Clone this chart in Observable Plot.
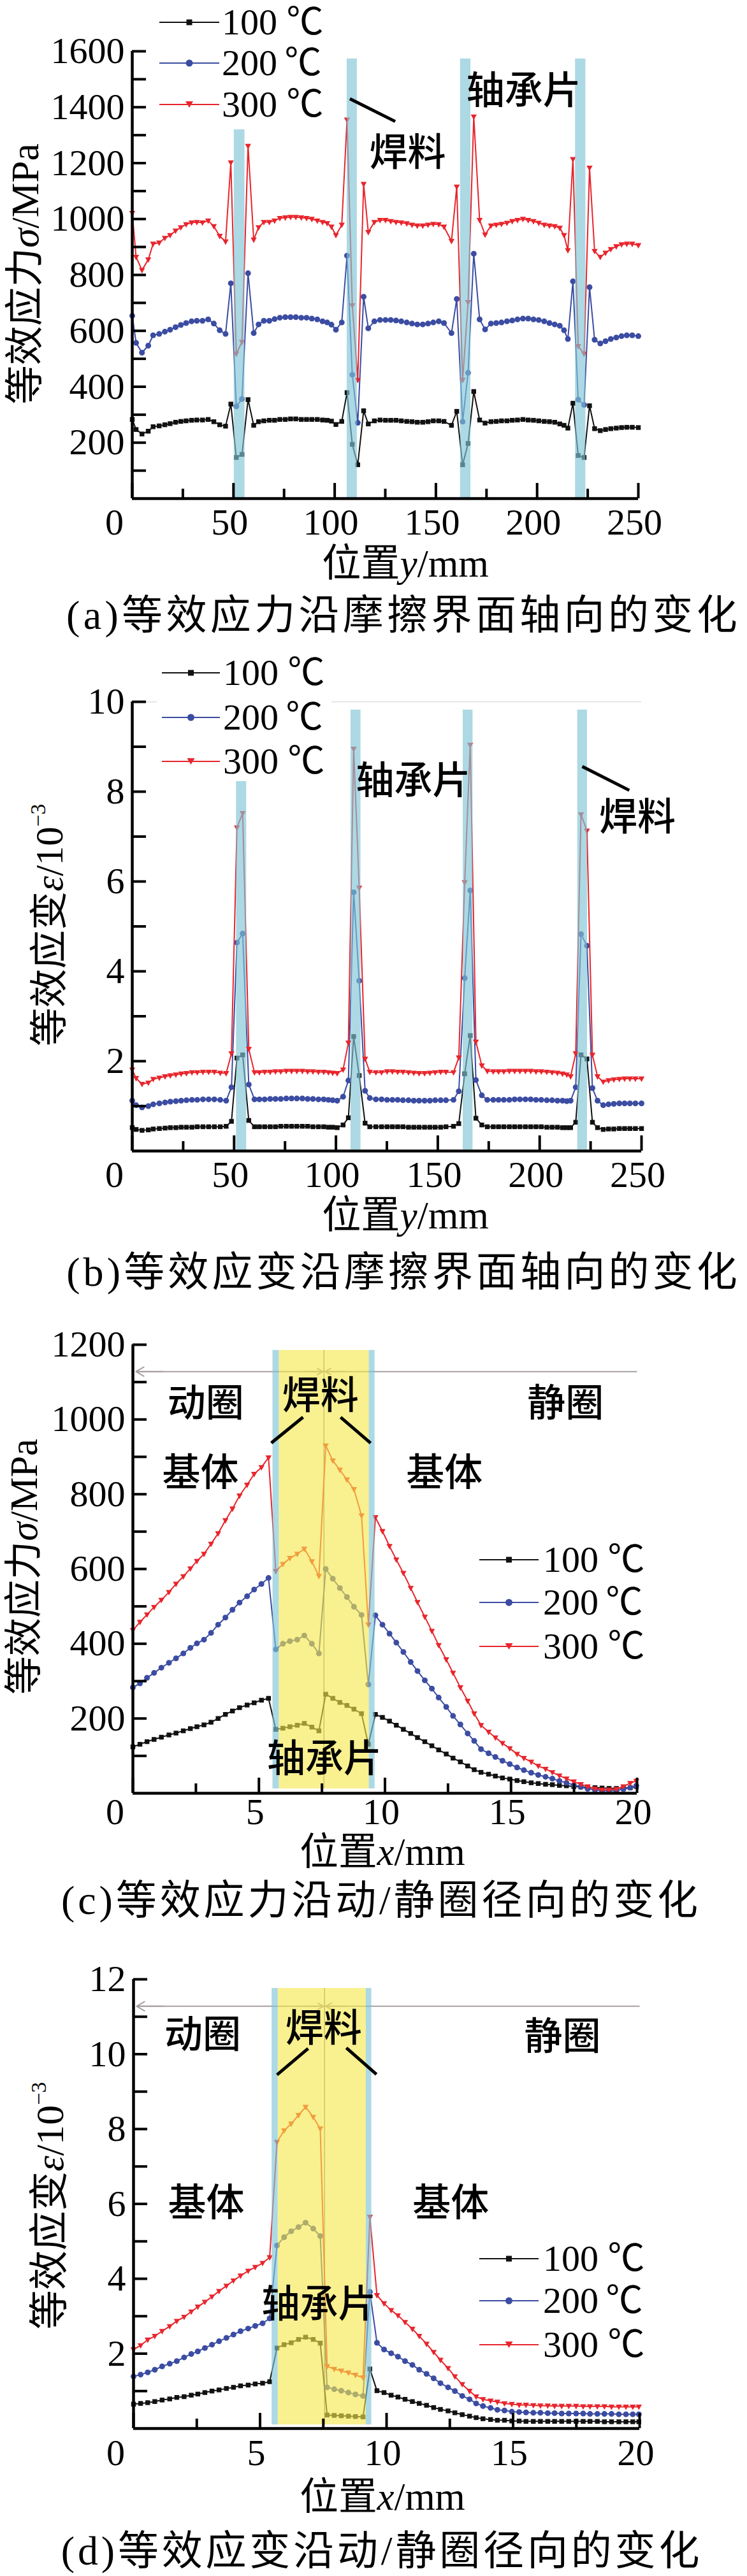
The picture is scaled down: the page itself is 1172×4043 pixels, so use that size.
<!DOCTYPE html>
<html><head><meta charset="utf-8">
<script src="https://cdn.jsdelivr.net/npm/d3@7"></script>
<script src="https://cdn.jsdelivr.net/npm/@observablehq/plot@0.6"></script>
<style>
html,body{margin:0;padding:0;background:#fff;overflow:hidden;}
#root{position:relative;width:1172px;height:4043px;overflow:hidden;background:#fff;color:#000;
  font-family:"Liberation Serif","Noto Sans CJK SC",serif;}
.lbl{position:absolute;white-space:nowrap;width:max-content;transform:translate(-50%,-50%);line-height:1;}
.leg{position:absolute;}
.row{position:absolute;display:flex;align-items:center;height:60px;width:max-content;white-space:nowrap;font-size:58px;line-height:1;}
svg.plot{position:absolute;left:0;}
</style></head><body><div id="root"></div>
<script>
// ---------------- data ----------------
const tempLabels = ["100 ℃", "200\u2009℃", "300 ℃"];
const seriesColors = ["#111111", "#3b4ca2", "#e8252c"];

// positions along the friction interface (mm), panels (a) and (b)
const yPos = [0,1.9,4.8,7.9,10.3,13.3,16.1,18.7,21.4,24,26.6,29.3,31.9,34.7,37.5,40.3,43.2,46.1,48.7,51.4,
  54.2,57.2,60,62.4,65,67.7,70.3,72.9,75.6,78.2,80.8,83.5,86.1,88.7,91.4,94,96.3,98.4,100.6,103.5,
  106.1,108.7,111.4,114.3,116.6,119.6,122.4,
  125.1,127.7,130.3,132.9,135.6,138.2,140.8,143.5,146.1,148.7,151.4,154,157.7,160.3,163.2,165.9,168.7,171.6,174.3,
  177.2,179.8,182.4,185.1,187.7,190.3,193,195.6,198.2,200.8,203.5,206.1,208.7,211.2,213.3,215.2,
  217.7,220.3,223.2,225.9,228.4,231.2,233.8,236.4,239.1,241.7,244.3,247,250];

// (a) equivalent stress, MPa
const stressA100 = [283,247,231,241,257,260,264,268,273,276,278,280,281,281,283,275,264,259,338,147,
  158,354,262,275,278,280,280,283,283,285,285,283,283,283,283,281,280,277,265,276,379,194,121,314,267,278,281,
  280,280,280,278,276,275,273,273,275,278,278,276,262,312,121,197,383,281,270,
  275,276,278,278,280,281,283,281,280,278,276,275,273,267,262,252,341,154,147,332,250,243,247,250,252,254,255,255,254];
const stressA200 = [654,557,522,547,584,589,597,604,613,621,628,634,636,636,641,626,602,589,770,330,
  356,806,592,623,636,636,642,647,649,649,649,647,647,644,641,634,630,622,604,630,869,443,271,722,609,634,639,
  639,639,637,634,630,626,623,623,626,630,634,628,592,714,275,450,876,641,605,
  626,628,630,634,637,641,644,644,641,639,634,628,623,618,602,571,777,354,335,756,568,555,563,571,576,581,584,584,581];
const stressA300 = [1021,864,817,855,911,915,932,942,958,970,981,987,989,987,994,974,939,919,1202,518,
  560,1261,926,970,989,989,994,1003,1005,1007,1007,1005,1003,1000,994,989,985,972,942,979,1355,691,424,1125,953,989,996,
  996,992,989,987,984,979,976,976,979,982,981,972,921,1115,424,702,1366,996,944,
  976,979,982,986,992,996,1000,996,992,986,979,976,974,968,942,888,1214,545,518,1183,885,864,879,892,902,909,911,911,906];

// (b) equivalent strain, 10^-3
const strainB100 = [0.52,0.48,0.46,0.47,0.49,0.50,0.51,0.52,0.52,0.53,0.53,0.53,0.54,0.54,0.54,0.54,0.54,0.55,0.66,2.07,
  2.14,0.68,0.54,0.54,0.54,0.54,0.54,0.55,0.55,0.55,0.55,0.55,0.55,0.54,0.54,0.54,0.53,0.53,0.52,0.58,0.74,2.55,1.68,0.62,0.54,0.54,0.54,
  0.54,0.54,0.54,0.54,0.53,0.53,0.53,0.53,0.53,0.53,0.53,0.54,0.55,0.61,1.72,2.57,0.73,0.58,0.54,
  0.54,0.54,0.54,0.54,0.54,0.54,0.54,0.54,0.54,0.54,0.53,0.53,0.53,0.52,0.52,0.52,0.64,2.14,2.05,0.64,0.52,0.48,0.49,0.49,0.50,0.50,0.50,0.50,0.50];
const strainB200 = [1.12,1.02,0.97,1.00,1.04,1.06,1.08,1.10,1.11,1.12,1.13,1.14,1.14,1.15,1.15,1.15,1.14,1.12,1.42,4.64,
  4.84,1.48,1.15,1.15,1.15,1.16,1.16,1.16,1.17,1.17,1.17,1.17,1.16,1.16,1.15,1.15,1.14,1.13,1.12,1.21,1.57,5.76,3.79,1.34,1.18,1.15,1.15,
  1.14,1.14,1.14,1.13,1.13,1.12,1.12,1.12,1.12,1.13,1.13,1.13,1.14,1.33,3.85,5.80,1.58,1.24,1.14,
  1.14,1.14,1.14,1.14,1.15,1.15,1.15,1.15,1.14,1.14,1.13,1.13,1.12,1.12,1.11,1.12,1.42,4.83,4.57,1.40,1.12,1.02,1.04,1.05,1.06,1.06,1.06,1.06,1.06];
const strainB300 = [1.81,1.62,1.49,1.52,1.60,1.63,1.66,1.68,1.70,1.72,1.73,1.75,1.75,1.76,1.76,1.76,1.74,1.73,2.17,7.20,
  7.52,2.27,1.75,1.75,1.76,1.76,1.77,1.77,1.78,1.78,1.78,1.78,1.77,1.77,1.76,1.76,1.75,1.74,1.73,1.81,2.41,8.95,5.86,2.05,1.76,1.75,1.75,
  1.77,1.77,1.76,1.76,1.75,1.74,1.73,1.73,1.74,1.75,1.76,1.76,1.75,2.08,5.98,9.04,2.43,1.90,1.78,
  1.77,1.77,1.77,1.78,1.78,1.78,1.78,1.78,1.77,1.77,1.76,1.75,1.74,1.72,1.70,1.66,2.17,7.49,7.13,2.14,1.66,1.54,1.57,1.59,1.60,1.61,1.61,1.61,1.61];

// radial positions across moving/static ring (mm), panels (c) and (d)
const xPos = [0,0.28,0.56,0.84,1.13,1.43,1.71,2.0,2.28,2.54,2.82,3.1,3.38,3.67,3.95,4.23,4.53,4.81,5.1,5.38,
  5.67,5.95,6.23,6.52,6.8,7.1,7.38,
  7.65,7.93,8.21,8.49,8.77,9.07,
  9.34,
  9.62,9.9,10.18,10.45,10.73,11.02,11.29,11.58,11.86,12.13,12.43,12.7,12.99,13.28,13.54,13.81,14.11,14.38,14.66,14.95,
  15.24,15.51,15.8,16.08,16.37,16.64,16.92,17.2,17.49,17.77,18.04,18.33,18.61,18.89,19.18,19.46,19.73,19.97];

// (c) equivalent stress, MPa
const stressC100 = [124,131,138,144,150,156,161,167,173,178,183,190,200,211,220,229,236,242,249,254,
  171,174,178,182,187,177,167, 265,254,243,235,225,213, 131,
  211,203,193,182,171,160,149,138,127,116,105,94,84,73,63,56,51,46,41,38,34,31,28,26,24,23,21,20,18,17,15,15,14,13,13,14,15,18];
const stressC200 = [283,294,309,322,336,349,361,374,389,401,411,429,451,470,491,510,527,545,560,576,
  385,400,407,411,422,400,374, 600,574,549,525,499,477, 291,
  476,451,427,403,378,351,327,302,280,256,231,207,184,160,140,118,107,97,87,78,69,62,55,49,44,39,33,28,22,17,12,9,7,7,7,11,15,20];
const stressC300 = [436,458,478,498,517,538,560,580,601,621,640,667,695,730,761,796,825,854,872,898,
  594,613,629,640,654,620,581, 930,890,865,839,813,743, 451,
  738,701,661,625,589,549,511,472,434,396,358,322,283,247,213,182,164,149,134,120,105,94,84,73,65,56,47,39,31,24,18,12,9,9,11,18,27,33];

// (d) equivalent strain, 10^-3
const strainD100 = [0.65,0.67,0.69,0.72,0.76,0.79,0.83,0.85,0.89,0.92,0.96,1.00,1.03,1.07,1.10,1.14,1.16,1.19,1.21,1.25,
  2.15,2.24,2.29,2.38,2.44,2.38,2.28, 0.36,0.35,0.34,0.33,0.32,0.31, 1.59,
  1.01,0.96,0.89,0.84,0.78,0.72,0.67,0.62,0.56,0.51,0.47,0.42,0.37,0.33,0.29,0.26,0.24,0.22,0.22,0.20,
  0.20,0.19,0.19,0.19,0.19,0.19,0.19,0.19,0.19,0.19,0.19,0.19,0.18,0.18,0.18,0.18,0.18,0.18];
const strainD200 = [1.39,1.44,1.50,1.57,1.66,1.73,1.80,1.90,1.99,2.06,2.15,2.24,2.33,2.42,2.51,2.60,2.67,2.74,2.81,2.94,
  4.89,5.11,5.27,5.38,5.50,5.34,5.14, 1.10,1.05,1.01,0.96,0.91,0.87, 3.65,
  2.29,2.11,2.01,1.92,1.80,1.70,1.57,1.46,1.34,1.21,1.10,1.00,0.87,0.78,0.67,0.60,0.55,0.50,0.48,0.45,
  0.44,0.43,0.42,0.42,0.41,0.41,0.40,0.40,0.40,0.40,0.39,0.39,0.39,0.39,0.38,0.38,0.38,0.38];
const strainD300 = [2.11,2.22,2.37,2.47,2.60,2.73,2.87,2.98,3.12,3.25,3.38,3.52,3.67,3.81,3.95,4.08,4.21,4.31,4.42,4.57,
  7.65,7.96,8.14,8.37,8.59,8.32,8.01, 1.66,1.59,1.54,1.49,1.43,1.36, 5.65,
  3.56,3.34,3.16,3.02,2.84,2.66,2.47,2.26,2.04,1.83,1.61,1.39,1.18,1.00,0.85,0.78,0.74,0.71,0.67,0.65,
  0.63,0.63,0.62,0.61,0.61,0.60,0.60,0.60,0.60,0.59,0.59,0.59,0.59,0.58,0.58,0.58,0.58,0.58];

// shaded regions (bearing plate = blue, solder = yellow)
const bandsA = [[50.3,55.6],[106.1,111.1],[162.1,167.2],[218.9,224.0]];
const bandsB = [[51.1,56.1],[107.3,112.2],[162.4,167.2],[218.6,223.4]];
const bandsCblue = [[5.55,5.8],[9.37,9.6]];
const bandsCyellow = [[5.8,9.37]];
const bandsDblue = [[5.47,5.71],[9.19,9.41]];
const bandsDyellow = [[5.71,9.19]];

// tick values
const ticksXab = [0,50,100,150,200,250], minorXab = [25,75,125,175,225];
const ticksXcd = [0,5,10,15,20], minorXcd = [2.5,7.5,12.5,17.5];
const ticksYa = [200,400,600,800,1000,1200,1400,1600];
const ticksYb = [2,4,6,8,10];
const ticksYc = [200,400,600,800,1000,1200];
const ticksYd = [2,4,6,8,10,12];

// annotations
const annA = [{x:136,y:1235,t:"焊料"},{x:193.4,y:1456,t:"轴承片"}];
const segA = [{x1:107.5,y1:1430,x2:129.9,y2:1349}];
const annB = [{x:138,y:8.22,t:"轴承片"},{x:248,y:7.42,t:"焊料"}];
const segB = [{x1:220.9,y1:8.56,x2:244,y2:8.03}];
const annC = [{x:2.89,y:1041,t:"动圈"},{x:7.44,y:1062,t:"焊料"},{x:17.16,y:1041,t:"静圈"},
  {x:2.68,y:855,t:"基体"},{x:12.36,y:855,t:"基体"},{x:7.6,y:90,t:"轴承片"}];
const segC = [{x1:5.49,y1:937,x2:6.75,y2:1006},{x1:8.24,y1:1006,x2:9.43,y2:937}];
const annD = [{x:2.73,y:10.49,t:"动圈"},{x:7.51,y:10.67,t:"焊料"},{x:16.95,y:10.44,t:"静圈"},
  {x:2.87,y:6.01,t:"基体"},{x:12.54,y:6.0,t:"基体"},{x:7.33,y:3.3,t:"轴承片"}];
const segD = [{x1:5.67,y1:9.45,x2:6.9,y2:10.15},{x1:8.41,y1:10.17,x2:9.6,y2:9.46}];

// ---------------- drawing ----------------
const root = document.getElementById("root");
const SERIF = '"Liberation Serif","Noto Sans CJK SC",serif';
const CJK = '"Noto Sans CJK SC","Liberation Serif",sans-serif';
const BLUE_BAND = "#7fc4d6", YELLOW_BAND = "#f5e64a";

const triDown = {draw(ctx, size) {
  const s = Math.sqrt(size / Math.PI);
  ctx.moveTo(-1.1 * s, -0.8 * s); ctx.lineTo(1.1 * s, -0.8 * s); ctx.lineTo(0, 1.2 * s); ctx.closePath();
}};
const symbols = ["square", "circle", triDown];
const radii = [4.2, 4.5, 4.3];

function panel(cfg) {
  const mt = 10, mb = 90;
  const fw = cfg.x1px - cfg.x0px, fh = cfg.bottom - cfg.top;
  const marks = [];
  if (cfg.topLine) marks.push(Plot.ruleY([cfg.yDomain[1]], {stroke: "#dedede", strokeWidth: 1.5}));
  if (cfg.arrowY != null) {
    const ay = cfg.arrowY, g = "#a8a0a0";
    marks.push(Plot.link([{a: 0.15, b: 20}], {x1: "a", x2: "b", y1: () => ay, y2: () => ay, stroke: g, strokeWidth: 2}));
    marks.push(Plot.arrow([{a: 1.2, b: 0.12}], {x1: "a", x2: "b", y1: () => ay, y2: () => ay, stroke: g, strokeWidth: 2, headLength: 16}));
    marks.push(Plot.arrow([{a: 6.8, b: cfg.vline - 0.05}, {a: 8.4, b: cfg.vline + 0.05}], {x1: "a", x2: "b", y1: () => ay, y2: () => ay, stroke: g, strokeWidth: 2, headLength: 16}));
  }
  if (cfg.vline != null) {
    marks.push(Plot.ruleX([{x: cfg.vline, y1: cfg.bandY[0], y2: cfg.bandY[1]}], {x: "x", y1: "y1", y2: "y2", stroke: "#8c8c8c", strokeWidth: 1.5}));
  }
  cfg.series.forEach((vals, k) => {
    const rows = cfg.xs.map((x, i) => ({x, y: vals[i]}));
    marks.push(Plot.line(rows, {x: "x", y: "y", stroke: seriesColors[k], strokeWidth: 2}));
    marks.push(Plot.dot(rows, {x: "x", y: "y", symbol: symbols[k], r: radii[k], fill: seriesColors[k], stroke: "none"}));
  });
  const bandRows = (list, fill) => list.map(([a, b]) => ({x1: a, x2: b, y1: cfg.bandY[0], y2: cfg.bandY[1], fill}));
  const allBands = [...bandRows(cfg.yellow || [], YELLOW_BAND), ...bandRows(cfg.blue, BLUE_BAND)];
  marks.push(Plot.rect(allBands, {x1: "x1", x2: "x2", y1: "y1", y2: "y2", fill: "fill", fillOpacity: d => d.fill === YELLOW_BAND ? 0.62 : 0.65}));
  // spines & inward ticks
  marks.push(Plot.ruleX(cfg.xMajor, {x: d => d, insetTop: fh - 24, stroke: "#000", strokeWidth: 4}));
  marks.push(Plot.ruleX(cfg.xMinor, {x: d => d, insetTop: fh - 15, stroke: "#000", strokeWidth: 4}));
  marks.push(Plot.ruleY(cfg.yTicksAll, {y: d => d, insetRight: fw - 22, stroke: "#000", strokeWidth: 4}));
  marks.push(Plot.ruleX([cfg.xDomain[0]], {stroke: "#000", strokeWidth: 4.5}));
  marks.push(Plot.ruleY([cfg.yDomain[0]], {stroke: "#000", strokeWidth: 4.5}));
  // tick labels
  marks.push(Plot.axisY(cfg.yLabels, {tickSize: 0, tickPadding: 12, fontSize: 58, fontFamily: SERIF, label: null, tickFormat: d => String(d)}));
  marks.push(Plot.axisX(cfg.xMajor.filter(d => d !== 0), {tickSize: 0, tickPadding: cfg.xPad, fontSize: 58, fontFamily: SERIF, label: null, tickFormat: d => String(d), dx: -6}));
  marks.push(Plot.axisX([0], {tickSize: 0, tickPadding: cfg.xPad, fontSize: 58, fontFamily: SERIF, label: null, tickFormat: d => String(d), dx: -28}));
  // annotations
  marks.push(Plot.link(cfg.segs, {x1: "x1", y1: "y1", x2: "x2", y2: "y2", stroke: "#000", strokeWidth: 5}));
  marks.push(Plot.text(cfg.ann, {x: "x", y: "y", text: "t", fontSize: 60, fontFamily: CJK, fontWeight: 500, fill: "#000", textAnchor: "middle", lineAnchor: "middle"}));

  const svg = Plot.plot({
    width: 1172, height: fh + mt + mb,
    marginLeft: cfg.x0px, marginRight: 1172 - cfg.x1px, marginTop: mt, marginBottom: mb,
    x: {domain: cfg.xDomain}, y: {domain: cfg.yDomain},
    style: {fontFamily: SERIF, background: "transparent", overflow: "visible", color: "#000"},
    marks
  });
  svg.classList.add("plot");
  svg.style.top = (cfg.top - mt) + "px";
  svg.style.maxWidth = "none";
  root.append(svg);
}

// centred text; fitW = target width in px (adjusted by letter-spacing or by font size)
function label(html, cx, cy, size, opts = {}) {
  const d = document.createElement("div");
  d.className = "lbl";
  d.style.left = cx + "px"; d.style.top = cy + "px"; d.style.fontSize = size + "px";
  d.innerHTML = html;
  root.append(d);
  if (opts.fitW) {
    const w = d.offsetWidth;
    if (opts.mode === "spacing") {
      const n = d.textContent.length;
      d.style.letterSpacing = ((opts.fitW - w) / n) + "px";
    } else {
      d.style.fontSize = (size * opts.fitW / w).toFixed(1) + "px";
    }
  }
  if (opts.rotate) d.style.transform = "translate(-50%,-50%) rotate(-90deg)";
}

function legend(cfg) {
  if (cfg.box) {
    const b = document.createElement("div");
    b.className = "leg";
    Object.assign(b.style, {left: cfg.box[0] + "px", top: cfg.box[1] + "px", width: (cfg.box[2] - cfg.box[0]) + "px", height: (cfg.box[3] - cfg.box[1]) + "px", background: "#fff"});
    root.append(b);
  }
  const w = cfg.lineX1 - cfg.lineX0;
  tempLabels.forEach((t, k) => {
    const c = seriesColors[k], m = w / 2;
    let sym;
    if (k === 0) sym = `<rect x="${m - 4.5}" y="25.5" width="9" height="9" fill="${c}"/>`;
    else if (k === 1) sym = `<circle cx="${m}" cy="30" r="5.5" fill="${c}"/>`;
    else sym = `<path d="M${m - 6},25 L${m + 6},25 L${m},35 Z" fill="${c}"/>`;
    const r = document.createElement("div");
    r.className = "row";
    r.style.left = cfg.lineX0 + "px"; r.style.top = (cfg.ys[k] - 30) + "px";
    r.innerHTML = `<svg width="${w}" height="60" style="display:block"><line x1="0" y1="30" x2="${w}" y2="30" stroke="${c}" stroke-width="2"/>${sym}</svg>` +
      `<span style="margin-left:${cfg.textX - cfg.lineX1}px">${t}</span>`;
    root.append(r);
  });
}

// (a)
panel({top: 80, bottom: 782, x0px: 207, x1px: 1001, xDomain: [0, 250], yDomain: [0, 1600],
  xs: yPos, series: [stressA100, stressA200, stressA300], blue: bandsA, bandY: [0, 1573],
  xMajor: ticksXab, xMinor: minorXab, yTicksAll: d3.range(100, 1601, 100), yLabels: ticksYa, xPad: 15,
  ann: annA, segs: segA});
// (b)
panel({top: 1101, bottom: 1806, x0px: 207, x1px: 1006, xDomain: [0, 250], yDomain: [0, 10],
  xs: yPos, series: [strainB100, strainB200, strainB300], blue: bandsB, bandY: [0, 9.82], topLine: true,
  xMajor: ticksXab, xMinor: minorXab, yTicksAll: d3.range(1, 11), yLabels: ticksYb, xPad: 15,
  ann: annB, segs: segB});
// (c)
panel({top: 2110, bottom: 2814, x0px: 208, x1px: 999, xDomain: [0, 20], yDomain: [0, 1200],
  xs: xPos, series: [stressC100, stressC200, stressC300], blue: bandsCblue, yellow: bandsCyellow, bandY: [12, 1185],
  arrowY: 1128, vline: 7.58,
  xMajor: ticksXcd, xMinor: minorXcd, yTicksAll: d3.range(100, 1201, 100), yLabels: ticksYc, xPad: 7,
  ann: annC, segs: segC});
// (d)
panel({top: 3106, bottom: 3811, x0px: 209, x1px: 1003, xDomain: [0, 20], yDomain: [0, 12],
  xs: xPos, series: [strainD100, strainD200, strainD300], blue: bandsDblue, yellow: bandsDyellow, bandY: [0.1, 11.76],
  arrowY: 11.28, vline: 7.55,
  xMajor: ticksXcd, xMinor: minorXcd, yTicksAll: d3.range(1, 13), yLabels: ticksYd, xPad: 16,
  ann: annD, segs: segD});

// legends
legend({box: [246, 0, 520, 203], lineX0: 250, lineX1: 344, textX: 348, ys: [35, 99, 164]});
legend({box: [246, 1015, 520, 1226], lineX0: 254, lineX1: 345, textX: 350, ys: [1056, 1126, 1195]});
legend({lineX0: 752, lineX1: 845, textX: 852, ys: [2448, 2515, 2584]});
legend({lineX0: 752, lineX1: 845, textX: 852, ys: [3545, 3611, 3680]});

// axis titles
const sup = '<span style="font-size:0.55em;position:relative;top:-0.8em">−3</span>';
label('位置<i>y</i>/mm', 636, 885, 60, {fitW: 262});
label('等效应力<i>σ</i>/MPa', 40, 430, 60, {rotate: true, fitW: 410});
label('位置<i>y</i>/mm', 636, 1908, 60, {fitW: 262});
label('等效应变<i>ε</i>/10' + sup, 78, 1452, 60, {rotate: true, fitW: 380});
label('位置<i>x</i>/mm', 600, 2907, 60, {fitW: 260});
label('等效应力<i>σ</i>/MPa', 38, 2459, 60, {rotate: true, fitW: 402});
label('位置<i>x</i>/mm', 600, 3919, 60, {fitW: 260});
label('等效应变<i>ε</i>/10' + sup, 78, 3462, 60, {rotate: true, fitW: 388});

// captions
label('(a)等效应力沿摩擦界面轴向的变化', 633, 966, 64, {fitW: 1058, mode: "spacing"});
label('(b)等效应变沿摩擦界面轴向的变化', 633, 1997, 64, {fitW: 1058, mode: "spacing"});
label('(c)等效应力沿动/静圈径向的变化', 598, 2983, 64, {fitW: 1004, mode: "spacing"});
label('(d)等效应变沿动/静圈径向的变化', 599, 4004, 64, {fitW: 1006, mode: "spacing"});
</script></body></html>
